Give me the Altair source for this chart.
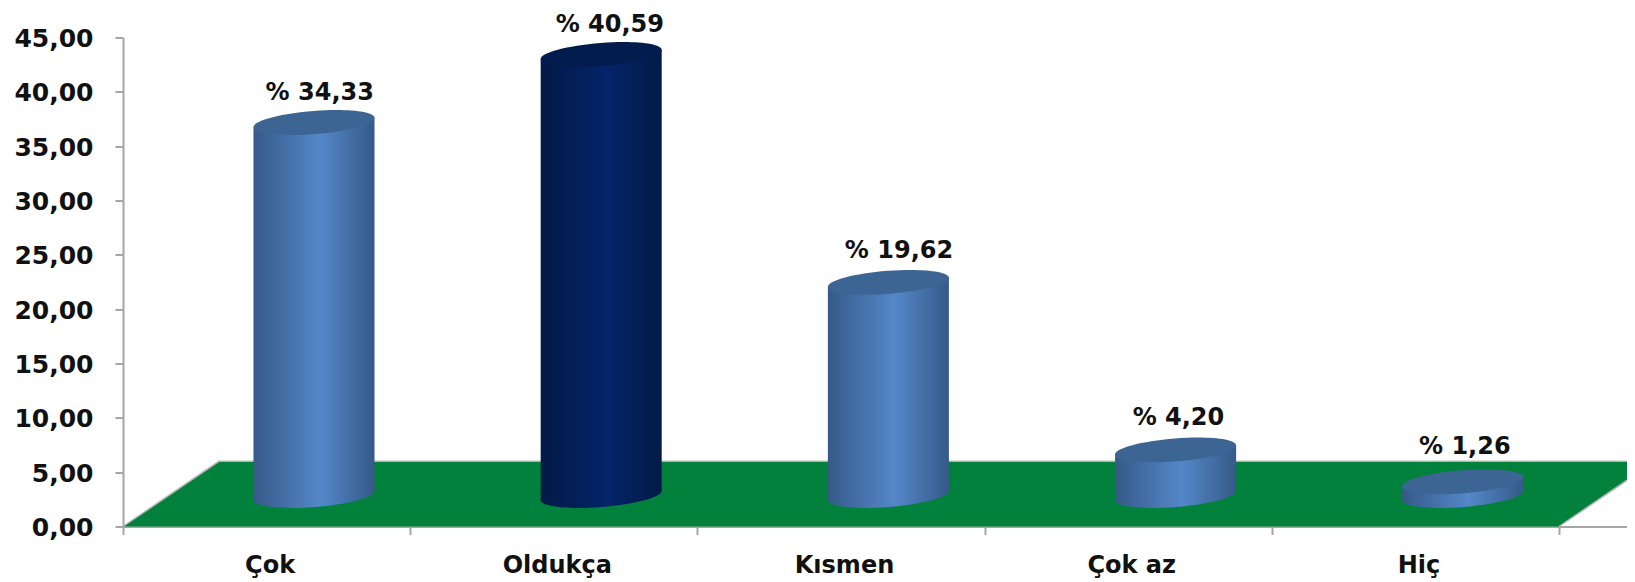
import altair as alt
import pandas as pd

categories = ["Çok", "Oldukça", "Kısmen", "Çok az", "Hiç"]
values = [34.33, 40.59, 19.62, 4.20, 1.26]
labels = ["% 34,33", "% 40,59", "% 19,62", "% 4,20", "% 1,26"]
label_shift = [0.02, 0.03, 0.037, 0.01, 0.007]
label_lift = [-0.29, -0.29, -0.19, -0.10, 0.19]
highlight = ["Oldukça"]

DEPTH = 2.85      # how far the cylinders stand in from the floor's front edge
CENTER0 = 0.665
HALF = 0.2107
SLANT = 0.44
FLOOR = 6.0
FLOOR_SHIFT = 0.334
SIZE = 121 ** 2
FONT = "DejaVu Sans"
INK = "#111111"
AXIS = "#a6a6a6"

ELLIPSE = "M -1 0.078 A 1.003 0.19 -4.5 1 1 1 -0.078 A 1.003 0.19 -4.5 1 1 -1 0.078 Z"


def grad(edge, mid):
    return {
        "gradient": "linear", "x1": 0, "y1": 0, "x2": 1, "y2": 0,
        "stops": [
            {"offset": 0, "color": edge},
            {"offset": 0.55, "color": mid},
            {"offset": 1, "color": edge},
        ],
    }


PALETTE = {
    False: (grad("#365a88", "#5487c9"), "#3d6593"),
    True: (grad("#021a45", "#04246a"), "#021d4d"),
}

rows = []
for i, (c, v) in enumerate(zip(categories, values)):
    rows.append(dict(cat=c, hi=c in highlight, cx=CENTER0 + i, top=v + DEPTH, base=DEPTH,
                     label=labels[i], lx=CENTER0 + i + label_shift[i], ly=v + DEPTH + label_lift[i]))
df = pd.DataFrame(rows)

side_rows = []
for r in rows:
    for sign in (-1, 1):
        side_rows.append(dict(cat=r["cat"], hi=r["hi"], x=r["cx"] + sign * HALF,
                              y=r["top"] + sign * SLANT, y2=r["base"] + sign * SLANT))
sides = pd.DataFrame(side_rows)

x_scale = alt.Scale(domain=[0, 5.2368], nice=False, zero=False)
y_scale = alt.Scale(domain=[0, 45], nice=False)

x_vals = [k / 2 for k in range(0, 11)]
cat_expr = "[" + ",".join(f"'{c}'" for c in categories) + "]"
x_axis = alt.Axis(
    values=x_vals, title=None, grid=False,
    labelExpr=f"datum.value % 1 == 0 ? '' : {cat_expr}[floor(datum.value)]",
    tickOpacity={"condition": {"test": "datum.value % 1 != 0", "value": 0}, "value": 1},
    domainColor=AXIS, domainWidth=2, tickColor=AXIS, tickWidth=2, tickSize=8,
    labelFont=FONT, labelFontWeight="bold", labelFontSize=24, labelColor=INK, labelOffset=3,
    labelPadding=31, labelAngle=0, labelBaseline="middle", labelFlush=False, labelOverlap=False,
)
y_axis = alt.Axis(
    values=list(range(0, 50, 5)), title=None, grid=False,
    labelExpr="replace(format(datum.value, '.2f'), '.', ',')",
    domainColor=AXIS, domainWidth=2, tickColor=AXIS, tickWidth=2, tickSize=8,
    labelFont=FONT, labelFontWeight="bold", labelFontSize=25, labelColor=INK, labelPadding=22, labelOffset=1,
)

floor = pd.DataFrame({"y": [0, FLOOR], "x": [0, FLOOR_SHIFT], "x2": [5, 5 + FLOOR_SHIFT]})
floor_layer = alt.Chart(floor).mark_area(orient="horizontal", color="#02813c").encode(
    x=alt.X("x:Q", scale=x_scale, axis=x_axis),
    x2="x2:Q",
    y=alt.Y("y:Q", scale=y_scale, axis=y_axis),
)
edge = pd.DataFrame({"x": [0, FLOOR_SHIFT, 5 + FLOOR_SHIFT, 5], "y": [0, FLOOR, FLOOR, 0], "o": [0, 1, 2, 3]})
edge_layer = alt.Chart(edge).mark_line(color="#b5b5b5", strokeWidth=1.5).encode(
    x=alt.X("x:Q", scale=x_scale), y=alt.Y("y:Q", scale=y_scale), order="o:Q"
)

layers = [floor_layer, edge_layer]
for hi, (g, lid) in PALETTE.items():
    d = df[df.hi == hi]
    s = sides[sides.hi == hi]
    layers.append(alt.Chart(d).mark_point(shape=ELLIPSE, filled=True, fill=g, opacity=1, size=SIZE, strokeWidth=0).encode(
        x=alt.X("cx:Q", scale=x_scale), y=alt.Y("base:Q", scale=y_scale)))
    layers.append(alt.Chart(s).mark_area(fill=g, opacity=1).encode(
        x=alt.X("x:Q", scale=x_scale), y=alt.Y("y:Q", scale=y_scale), y2="y2:Q", detail="cat:N"))
    layers.append(alt.Chart(d).mark_point(shape=ELLIPSE, filled=True, fill=lid, opacity=1, size=SIZE, strokeWidth=0).encode(
        x=alt.X("cx:Q", scale=x_scale), y=alt.Y("top:Q", scale=y_scale)))

layers.append(alt.Chart(df).mark_text(font=FONT, fontWeight="bold", fontSize=24, color=INK, dy=-33, baseline="middle").encode(
    x=alt.X("lx:Q", scale=x_scale), y=alt.Y("ly:Q", scale=y_scale), text="label:N"))

chart = alt.layer(*layers).properties(
    width=1504, height=489,
    autosize=alt.AutoSizeParams(type="none"),
    padding={"left": 115, "top": 29.5, "right": 0, "bottom": 55},
    background="white",
).configure_view(stroke=None)

chart.save("out.html", embed_options={"renderer": "svg", "actions": False})
